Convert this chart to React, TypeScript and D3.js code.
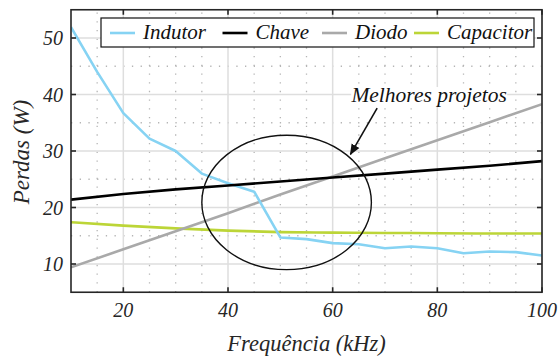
import React, { useEffect } from "react";
import * as d3 from "d3";

// frequencies (kHz)
const freq = [10, 15, 20, 25, 30, 35, 40, 45, 50, 55, 60, 65, 70, 75, 80, 85, 90, 95, 100];
const indutor = [51.9, 44.0, 36.7, 32.2, 30.0, 26.0, 24.3, 22.8, 14.7, 14.4, 13.7, 13.5, 12.8, 13.1, 12.8, 11.9, 12.2, 12.1, 11.5];

const freq10 = [10, 20, 30, 40, 50, 60, 70, 80, 90, 100];
const chave = [21.4, 22.4, 23.2, 23.9, 24.6, 25.3, 26.0, 26.7, 27.4, 28.2];
const diodo = [9.4, 12.6, 15.8, 19.0, 22.3, 25.5, 28.7, 31.9, 35.1, 38.3];
const capacitor = [17.4, 16.8, 16.3, 15.9, 15.65, 15.55, 15.5, 15.45, 15.4, 15.4];

const xTicks = [20, 40, 60, 80, 100];
const xMinor = [15, 25, 30, 35, 45, 50, 55, 65, 70, 75, 85, 90, 95];
const yTicks = [10, 20, 30, 40, 50];
const yMinor = [15, 25, 35, 45];

const seriesNames = ["Indutor", "Chave", "Diodo", "Capacitor"];
const seriesColors = ["#86d3f3", "#000000", "#a9a9a9", "#bcd537"];
const legendX = [110, 222.5, 322, 414];

// "best designs" ellipse: center and radii in data units
const ellipse = { cx: 51.2, cy: 20.9, rx: 16.2, ry: 11.9 };
const arrowFrom = [68.5, 37.6];
const arrowTo = [63.4, 29.4];

const W = 560;
const H = 360;
const m = { left: 71, right: 18, top: 9.75, bottom: 67.75 };
const FONT = "Liberation Serif";
const AX = "#262626";

export default function App() {
  useEffect(() => {
    document.body.style.margin = "0";
  }, []);

  const x = d3.scaleLinear().domain([10, 100]).range([m.left, W - m.right]);
  const y = d3.scaleLinear().domain([5, 55]).range([H - m.bottom, m.top]);

  const line = d3.line<[number, number]>().x((d) => x(d[0])).y((d) => y(d[1]));
  const curve = d3.line<[number, number]>().x((d) => x(d[0])).y((d) => y(d[1])).curve(d3.curveMonotoneX);

  const series: [number, number][][] = [
    freq.map((f, i) => [f, indutor[i]] as [number, number]),
    freq10.map((f, i) => [f, chave[i]] as [number, number]),
    freq10.map((f, i) => [f, diodo[i]] as [number, number]),
    freq10.map((f, i) => [f, capacitor[i]] as [number, number]),
  ];
  const drawOrder = [3, 2, 0, 1];

  const x0 = x(10), x1 = x(100), y0 = y(5), y1 = y(55);
  const annX = x(arrowFrom[0]) + 52;
  const annY = y(arrowFrom[1]) - 6;

  return (
    <svg width={W} height={H} style={{ display: "block", background: "#fff" }}>
      <defs>
        <clipPath id="plot">
          <rect x={x0} y={y1} width={x1 - x0} height={y0 - y1} />
        </clipPath>
        <marker id="arrow" viewBox="0 0 10 10" refX={9} refY={5} markerWidth={7} markerHeight={7} orient="auto">
          <path d="M0,1 L10,5 L0,9 Z" fill="#111" />
        </marker>
      </defs>

      {/* grid */}
      {xMinor.map((d) => (
        <line key={"xm" + d} x1={x(d)} x2={x(d)} y1={y0} y2={y1} stroke="#b5b5b5" strokeWidth={1.3} strokeDasharray="1.3,7.4" />
      ))}
      {yMinor.map((d) => (
        <line key={"ym" + d} x1={x0} x2={x1} y1={y(d)} y2={y(d)} stroke="#b5b5b5" strokeWidth={1.3} strokeDasharray="1.3,7.4" />
      ))}
      {xTicks.map((d) => (
        <line key={"xg" + d} x1={x(d)} x2={x(d)} y1={y0} y2={y1} stroke="#dedede" strokeWidth={1.5} />
      ))}
      {yTicks.map((d) => (
        <line key={"yg" + d} x1={x0} x2={x1} y1={y(d)} y2={y(d)} stroke="#dedede" strokeWidth={1.5} />
      ))}

      {/* series */}
      <g clipPath="url(#plot)">
        {drawOrder.map((k) => (
          <path key={seriesNames[k]} d={(k === 3 ? curve : line)(series[k]) || ""} fill="none"
            stroke={seriesColors[k]} strokeWidth={2.6} strokeLinejoin="round" />
        ))}
        <ellipse cx={x(ellipse.cx)} cy={y(ellipse.cy)}
          rx={x(ellipse.cx + ellipse.rx) - x(ellipse.cx)}
          ry={y(ellipse.cy) - y(ellipse.cy + ellipse.ry)}
          fill="none" stroke="#111" strokeWidth={1.4} />
      </g>

      {/* annotation */}
      <rect x={annX - 78} y={annY - 15} width={156} height={18} fill="#fff" />
      <text x={annX} y={annY} textAnchor="middle" fontFamily={FONT} fontStyle="italic" fontSize={21.5} fill="#111">
        Melhores projetos
      </text>
      <line x1={x(arrowFrom[0])} y1={y(arrowFrom[1])} x2={x(arrowTo[0])} y2={y(arrowTo[1])}
        stroke="#111" strokeWidth={1.6} markerEnd="url(#arrow)" />

      {/* axes */}
      <rect x={x0} y={y1} width={x1 - x0} height={y0 - y1} fill="none" stroke={AX} strokeWidth={1.6} />
      {xTicks.map((t) => (
        <g key={"xt" + t}>
          <line x1={x(t)} x2={x(t)} y1={y0} y2={y0 - 5} stroke={AX} strokeWidth={1.6} />
          <line x1={x(t)} x2={x(t)} y1={y1} y2={y1 + 5} stroke={AX} strokeWidth={1.6} />
          <text x={x(t)} y={y0 + 25} textAnchor="middle" fontFamily={FONT} fontStyle="italic" fontSize={20} fill={AX}>
            {t}
          </text>
        </g>
      ))}
      {yTicks.map((t) => (
        <g key={"yt" + t}>
          <line x1={x0} x2={x0 + 5} y1={y(t)} y2={y(t)} stroke={AX} strokeWidth={1.6} />
          <line x1={x1} x2={x1 - 5} y1={y(t)} y2={y(t)} stroke={AX} strokeWidth={1.6} />
          <text x={x0 - 8} y={y(t) + 7} textAnchor="end" fontFamily={FONT} fontStyle="italic" fontSize={20} fill={AX}>
            {t}
          </text>
        </g>
      ))}

      {/* axis labels */}
      <text x={(x0 + x1) / 2} y={351} textAnchor="middle" fontFamily={FONT} fontStyle="italic" fontSize={22.5} fill={AX}>
        Frequência (kHz)
      </text>
      <text transform={`translate(29,${(y0 + y1) / 2 + 1}) rotate(-90)`} textAnchor="middle" fontFamily={FONT}
        fontStyle="italic" fontSize={23} fill={AX}>
        Perdas (W)
      </text>

      {/* legend */}
      <rect x={101} y={18} width={433} height={29} fill="#fff" stroke="#111" strokeWidth={1.2} />
      {seriesNames.map((name, i) => (
        <g key={"lg" + name}>
          <line x1={legendX[i]} x2={legendX[i] + 25} y1={33} y2={33} stroke={seriesColors[i]} strokeWidth={2.6} />
          <text x={legendX[i] + 33} y={38.5} fontFamily={FONT} fontStyle="italic" fontSize={21} fill="#111">
            {name}
          </text>
        </g>
      ))}
    </svg>
  );
}
